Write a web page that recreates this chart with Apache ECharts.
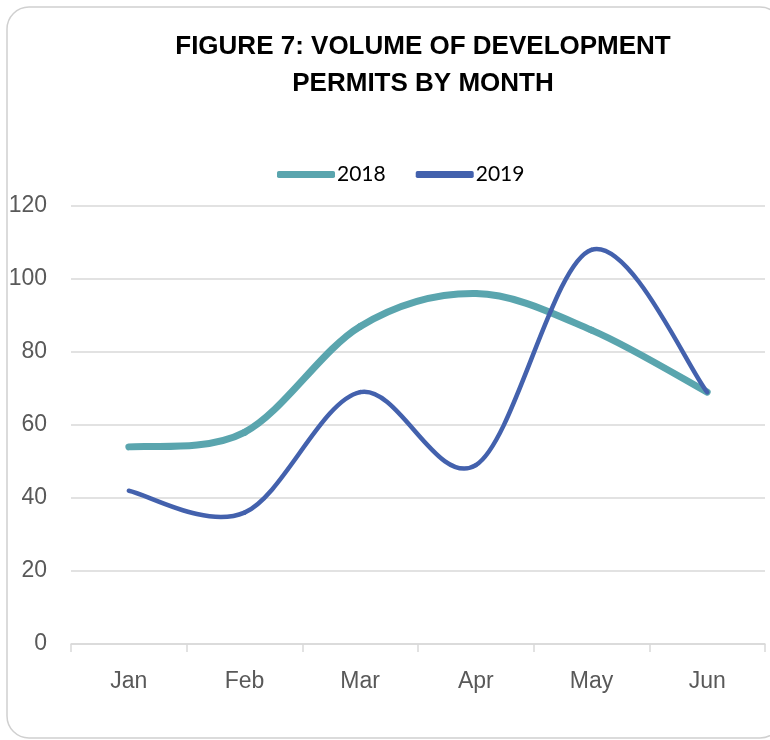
<!DOCTYPE html>
<html>
<head>
<meta charset="utf-8">
<script src="https://cdn.jsdelivr.net/npm/echarts@6/dist/echarts.min.js"></script>
<style>
html,body{margin:0;padding:0;background:#fff;}
#c{width:770px;height:740px;}
</style>
</head>
<body>
<div id="c"></div>
<script>
var months = ['Jan', 'Feb', 'Mar', 'Apr', 'May', 'Jun'];
var values2018 = [54, 58, 87, 96, 86, 69];
var values2019 = [42, 36, 69, 49, 108, 69];
var seriesNames = ['2018', '2019'];
var colors = ['#5aa5ae', '#4361ad'];

function smoothRender(values, color, width) {
  return function (params, api) {
    if (params.dataIndex !== 0) return null;
    var pts = values.map(function (v, i) { return api.coord([i, v]); });
    var children = [];
    for (var i = 0; i < pts.length - 1; i++) {
      var p0 = pts[Math.max(i - 1, 0)], p1 = pts[i], p2 = pts[i + 1], p3 = pts[Math.min(i + 2, pts.length - 1)];
      children.push({
        type: 'bezierCurve',
        shape: {
          x1: p1[0], y1: p1[1], x2: p2[0], y2: p2[1],
          cpx1: p1[0] + (p2[0] - p0[0]) / 6, cpy1: p1[1] + (p2[1] - p0[1]) / 6,
          cpx2: p2[0] - (p3[0] - p1[0]) / 6, cpy2: p2[1] - (p3[1] - p1[1]) / 6
        },
        style: {stroke: color, lineWidth: width, fill: null, lineCap: 'round', lineJoin: 'round'}
      });
    }
    return {type: 'group', children: children};
  };
}

var chart = echarts.init(document.getElementById('c'), null, {renderer: 'canvas'});
var axisFont = '"Liberation Sans Narrow", "Arial Narrow", "Liberation Sans", Arial, sans-serif';
chart.setOption({
  animation: false,
  backgroundColor: '#fff',
  graphic: [{
    type: 'rect',
    shape: {x: 7, y: 7, width: 775, height: 731, r: 22},
    style: {fill: 'none', stroke: '#d0d0d0', lineWidth: 1.5},
    silent: true, z: -1
  }],
  title: {
    text: 'FIGURE 7: VOLUME OF DEVELOPMENT\nPERMITS BY MONTH',
    left: 418, textAlign: 'center', top: 23,
    textStyle: {fontFamily: axisFont, fontWeight: 'bold', fontSize: 26, lineHeight: 37, color: '#000'}
  },
  legend: {
    top: 159, left: 272,
    itemWidth: 58, itemHeight: 7, itemGap: 30,
    icon: 'roundRect',
    textStyle: {fontFamily: 'Lato, "Open Sans", sans-serif', fontSize: 21, color: '#000', padding: [0, 0, 0, -3]},
    data: seriesNames
  },
  grid: {left: 71, right: 5, top: 206, bottom: 96},
  xAxis: {
    type: 'category', data: months, boundaryGap: true,
    axisLine: {lineStyle: {color: '#d9d9d9', width: 1.5}},
    axisTick: {show: true, length: 8, lineStyle: {color: '#d9d9d9', width: 1.5}},
    axisLabel: {fontFamily: axisFont, fontSize: 23, color: '#595959', margin: 26},
    splitLine: {show: false}
  },
  yAxis: {
    type: 'value', min: 0, max: 120, interval: 20,
    axisLine: {show: false}, axisTick: {show: false},
    axisLabel: {fontFamily: axisFont, fontSize: 23, color: '#595959', margin: 24},
    splitLine: {lineStyle: {color: '#d9d9d9', width: 1.5}}
  },
  series: [{
    name: seriesNames[0], type: 'custom',
    data: values2018.map(function (v, i) { return [i, v]; }),
    encode: {x: 0, y: 1},
    itemStyle: {color: colors[0]},
    renderItem: smoothRender(values2018, colors[0], 7)
  }, {
    name: seriesNames[1], type: 'custom',
    data: values2019.map(function (v, i) { return [i, v]; }),
    encode: {x: 0, y: 1},
    itemStyle: {color: colors[1]},
    renderItem: smoothRender(values2019, colors[1], 4.5)
  }]
});
</script>
</body>
</html>
